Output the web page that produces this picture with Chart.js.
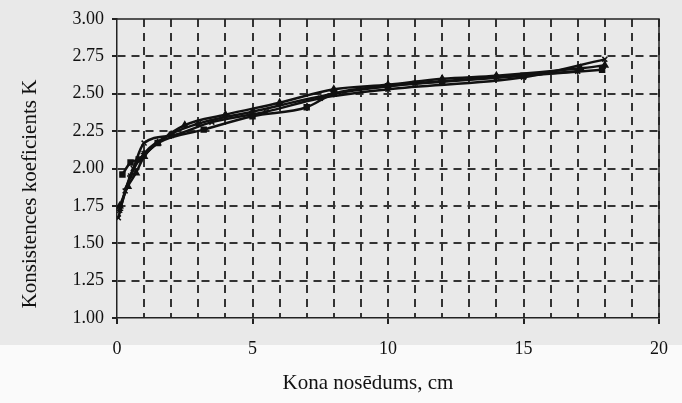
<!DOCTYPE html>
<html>
<head>
<meta charset="utf-8">
<script src="https://cdn.jsdelivr.net/npm/chart.js@4/dist/chart.umd.min.js"></script>
<style>
html,body{margin:0;padding:0;background:#fafafa;}
#wrap{width:682px;height:403px;position:relative;}
</style>
</head>
<body>
<div id="wrap"><canvas id="c" width="682" height="403"></canvas></div>
<script>
// ---- data ----
const xTitle = "Kona nosēdums, cm";
const yTitle = "Konsistences koeficients K";
const yTicks = [1.00, 1.25, 1.50, 1.75, 2.00, 2.25, 2.50, 2.75, 3.00];
const xTickLabels = [0, 5, 10, 15, 20];

const squaresX = [0.2, 0.5, 0.8, 1.5, 3.2, 5, 7, 8, 10, 12, 15, 17.9];
const squaresY = [1.96, 2.04, 2.06, 2.17, 2.26, 2.35, 2.41, 2.50, 2.55, 2.58, 2.62, 2.66];

const trianglesX = [0.1, 0.4, 0.7, 1.0, 1.5, 2.5, 4, 6, 8, 10, 12, 14, 17.1, 18];
const trianglesY = [1.75, 1.88, 1.97, 2.08, 2.17, 2.29, 2.36, 2.44, 2.53, 2.56, 2.60, 2.62, 2.67, 2.69];

const crossesX = [0.05, 0.3, 0.6, 1.0, 2.0, 3.5, 5.5, 7.5, 10, 15, 18];
const crossesY = [1.67, 1.85, 2.00, 2.17, 2.22, 2.31, 2.38, 2.47, 2.53, 2.61, 2.73];

const starsX = [0.1, 0.5, 1.0, 2.0, 3.0, 5, 8, 11, 14, 17];
const starsY = [1.72, 1.95, 2.10, 2.23, 2.30, 2.38, 2.50, 2.57, 2.61, 2.65];

function pts(xs, ys){ return xs.map((x,i)=>({x:x, y:ys[i]})); }

const bgPlugin = {
  id:'bg',
  beforeDraw(chart){
    const ctx = chart.ctx;
    ctx.save();
    ctx.fillStyle = '#fafafa';
    ctx.fillRect(0,0,chart.width,chart.height);
    ctx.fillStyle = '#e9e9e9';
    ctx.fillRect(0,0,chart.width,345);
    ctx.restore();
  },
  afterDraw(chart){
    const {ctx, chartArea:a} = chart;
    ctx.save();
    ctx.strokeStyle = '#222';
    ctx.lineWidth = 1.5;
    ctx.beginPath();
    ctx.moveTo(a.left, a.top); ctx.lineTo(a.right, a.top); ctx.lineTo(a.right, a.bottom);
    ctx.stroke();
    ctx.fillStyle = '#111';
    ctx.font = '21px "Liberation Serif", "DejaVu Serif", serif';
    ctx.textAlign = 'center'; ctx.textBaseline = 'middle';
    ctx.fillText(xTitle, 368, 383);
    ctx.translate(30, 194);
    ctx.rotate(-Math.PI/2);
    ctx.fillText(yTitle, 0, 0);
    ctx.restore();
  }
};

const common = {
  borderColor:'#111', backgroundColor:'#111', borderWidth:2.5,
  pointRadius:3.5, pointBorderWidth:1.5, showLine:true,
  cubicInterpolationMode:'monotone'
};

new Chart(document.getElementById('c'), {
  type:'scatter',
  data:{datasets:[
    Object.assign({label:'A', data:pts(squaresX, squaresY), pointStyle:'rect'}, common),
    Object.assign({label:'B', data:pts(trianglesX, trianglesY), pointStyle:'triangle'}, common),
    Object.assign({label:'C', data:pts(crossesX, crossesY), pointStyle:'crossRot', pointRadius:4.5}, common),
    Object.assign({label:'D', data:pts(starsX, starsY), pointStyle:'star', pointRadius:3}, common)
  ]},
  options:{
    responsive:false, animation:false, devicePixelRatio:1,
    layout:{padding:{left:0, right:14, top:19, bottom:0}},
    plugins:{legend:{display:false}, tooltip:{enabled:false}},
    scales:{
      x:{
        type:'linear', min:0, max:20,
        afterFit(s){ s.height = 85; },
        ticks:{stepSize:1, autoSkip:false, maxRotation:0, padding:14,
          color:'#111', font:{family:'"Liberation Serif", serif', size:18},
          callback:(v)=> xTickLabels.includes(v) ? String(v) : ''},
        grid:{color:(c)=> c.tick && c.tick.value===0 ? 'rgba(0,0,0,0)' : '#333',
          lineWidth:2, tickLength:6,
          tickColor:(c)=> c.tick && c.tick.value%5===0 ? '#222' : 'rgba(0,0,0,0)'},
        border:{display:true, color:'#222', width:1.5, dash:[8,6]}
      },
      y:{
        type:'linear', min:1, max:3,
        afterFit(s){ s.width = 117; },
        afterBuildTicks(s){ s.ticks = yTicks.map(v=>({value:v})); },
        ticks:{padding:8, color:'#111', font:{family:'"Liberation Serif", serif', size:18},
          callback:(v)=> Number(v).toFixed(2)},
        grid:{color:(c)=> c.tick && (c.tick.value===1 || c.tick.value===3) ? 'rgba(0,0,0,0)' : '#333',
          lineWidth:2, tickLength:5, tickColor:'#222'},
        border:{display:true, color:'#222', width:1.5, dash:[8,6]}
      }
    }
  },
  plugins:[bgPlugin]
});
</script>
</body>
</html>
